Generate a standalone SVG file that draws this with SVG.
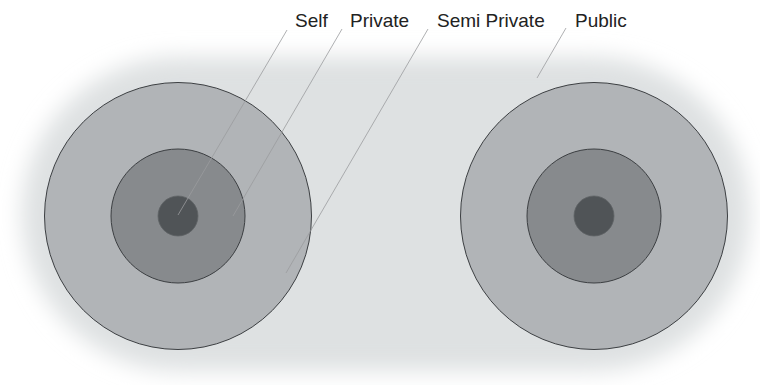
<svg xmlns="http://www.w3.org/2000/svg" width="760" height="385" viewBox="0 0 760 385">
  <defs>
    <filter id="blur" x="-10%" y="-20%" width="120%" height="140%">
      <feGaussianBlur stdDeviation="11"/>
    </filter>
  </defs>
  <style>
    .outer { fill: #b1b4b7; stroke: #3c3f42; stroke-width: 1; }
    .middle { fill: #878a8d; stroke: #3c3f42; stroke-width: 1; }
    .inner { fill: #505457; stroke: #5f6366; stroke-width: 0.8; }
    .leader { stroke: #9a9c9e; stroke-width: 0.8; fill: none; }
    .label { font-family: "Liberation Sans", Arial, sans-serif; font-size: 19px; fill: #222222; }
  </style>
  <rect width="760" height="385" fill="#ffffff"/>
  <g id="background">
    <rect x="22" y="57" width="728" height="314" rx="157" ry="157" fill="#dee1e2" filter="url(#blur)"/>
  </g>
  <g id="left-zones">
    <circle class="outer" cx="178" cy="216" r="133.5"/>
    <circle class="middle" cx="178" cy="216" r="67"/>
    <circle class="inner" cx="178" cy="216" r="20"/>
  </g>
  <g id="right-zones">
    <circle class="outer" cx="594" cy="216" r="133.5"/>
    <circle class="middle" cx="594" cy="216" r="67"/>
    <circle class="inner" cx="594" cy="216" r="20"/>
  </g>
  <g id="connectors">
    <line class="leader" x1="287" y1="30" x2="178" y2="215"/>
    <line class="leader" x1="342" y1="29" x2="233" y2="216"/>
    <line class="leader" x1="428" y1="29" x2="286" y2="273"/>
    <line class="leader" x1="566" y1="28" x2="537" y2="78"/>
  </g>
  <g id="label-self"><text class="label" x="295" y="27">Self</text></g>
  <g id="label-private"><text class="label" x="350" y="27">Private</text></g>
  <g id="label-semi-private"><text class="label" x="437" y="27">Semi Private</text></g>
  <g id="label-public"><text class="label" x="575" y="27">Public</text></g>
</svg>
